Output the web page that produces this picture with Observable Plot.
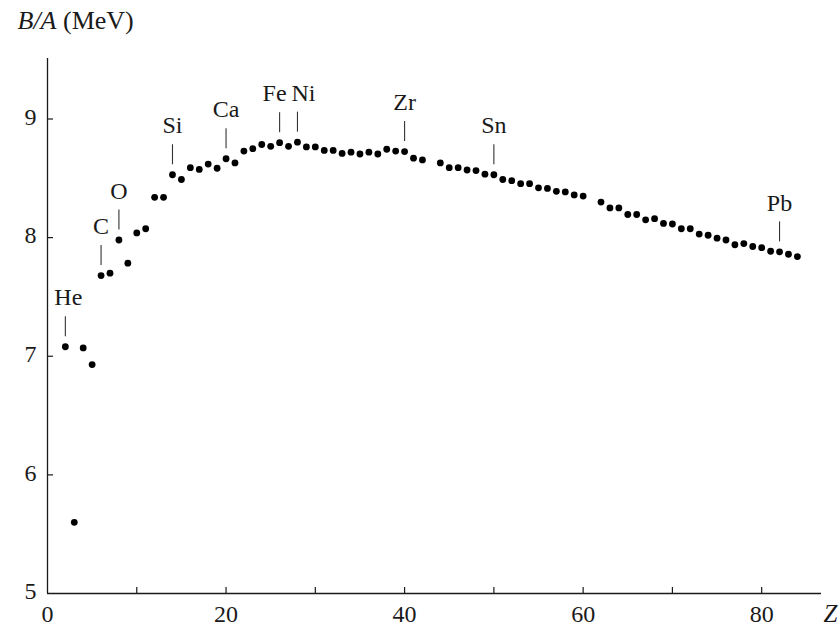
<!DOCTYPE html>
<html>
<head>
<meta charset="utf-8">
<script src="https://cdn.jsdelivr.net/npm/d3@7"></script>
<script src="https://cdn.jsdelivr.net/npm/@observablehq/plot@0.6"></script>
<style>
  html, body { margin: 0; padding: 0; background: #fff; }
</style>
</head>
<body>
<div id="chart"></div>
<script>
// Atomic number Z of the most stable isotope plotted
const Z = [2,3,4,5,6,7,8,9,10,11,12,13,14,15,16,17,18,19,20,21,22,23,24,25,26,27,28,29,30,
  31,32,33,34,35,36,37,38,39,40,41,42,44,45,46,47,48,49,50,51,52,53,54,55,56,57,58,59,60,
  62,63,64,65,66,67,68,69,70,71,72,73,74,75,76,77,78,79,80,81,82,83,84];
// Binding energy per nucleon B/A (MeV)
const BA = [7.08,5.60,7.07,6.93,7.68,7.70,7.98,7.785,8.04,8.075,8.34,8.34,8.53,8.49,8.59,8.575,8.62,8.585,8.665,8.63,
  8.73,8.75,8.785,8.77,8.80,8.77,8.805,8.765,8.765,8.735,8.735,8.71,8.72,8.705,8.72,8.705,8.745,8.73,8.725,8.67,
  8.655,8.63,8.59,8.59,8.57,8.565,8.535,8.53,8.49,8.48,8.455,8.455,8.42,8.415,8.39,8.385,8.36,8.35,
  8.30,8.25,8.25,8.195,8.195,8.15,8.16,8.12,8.115,8.075,8.075,8.03,8.02,7.995,7.98,7.94,7.95,7.925,7.915,7.885,7.88,7.86,7.84];
// Labelled elements
const labelNames = ["He","C","O","Si","Ca","Fe","Ni","Zr","Sn","Pb"];
const labelZ = [2,6,8,14,20,26,28,40,50,82];
// Axis ticks
const xTickLabels = [0,20,40,60,80];
const xTickMarks = [10,20,30,40,50,60,70,80];
const yTickLabels = [5,6,7,8,9];
const yTickMarks = [6,7,8,9];
const yTitleItalic = "B/A";
const yTitleUnit = " (MeV)";
const xTitle = "Z";

const data = Z.map((z, i) => ({Z: z, B: BA[i]}));
const labels = labelNames.map((name, i) => ({name, Z: labelZ[i], B: data.find(d => d.Z === labelZ[i]).B}));

const W = 840, H = 627;
const mL = 47, mR = 19, mT = 58, mB = 34;
const yDomain = [5, 9.51];
const frameW = W - mL - mR, frameH = H - mT - mB;
const pxPerMeV = frameH / (yDomain[1] - yDomain[0]);
const ink = "#1a1a1a";
const font = "'Liberation Serif', 'Times New Roman', serif";

const plain = labels.filter(d => d.name !== "Fe" && d.name !== "Ni" && d.name !== "He");

const chart = Plot.plot({
  width: W,
  height: H,
  marginLeft: mL,
  marginRight: mR,
  marginTop: mT,
  marginBottom: mB,
  style: {fontFamily: font, fontSize: "24px", color: ink, background: "#fff", overflow: "visible"},
  x: {domain: [0, 86.7]},
  y: {domain: yDomain},
  marks: [
    Plot.ruleX([0], {stroke: ink, strokeWidth: 1.3}),
    Plot.ruleY([5], {stroke: ink, strokeWidth: 1.3}),
    Plot.tickX(xTickMarks, {x: d => d, insetTop: frameH - 6, stroke: ink, strokeWidth: 1.2}),
    Plot.tickY(yTickMarks, {y: d => d, insetRight: frameW - 6, stroke: ink, strokeWidth: 1.2}),
    Plot.axisX({ticks: xTickLabels, tickFormat: d3.format("d"), tickSize: 0, tickPadding: 11, label: null, fontSize: 24, fill: ink}),
    Plot.axisY({ticks: yTickLabels, tickFormat: d3.format("d"), tickSize: 0, tickPadding: 11, label: null, fontSize: 24, dy: -2, fill: ink}),
    Plot.dot(data, {x: "Z", y: "B", r: 3.4, fill: "#000", stroke: null}),
    Plot.ruleX(labels, {x: "Z", y1: d => d.B + 10 / pxPerMeV, y2: d => d.B + 30 / pxPerMeV, stroke: "#333", strokeWidth: 1.1}),
    Plot.text(plain, {x: "Z", y: "B", text: "name", dy: -49, fontSize: 24, fill: ink}),
    Plot.text(labels.filter(d => d.name === "He"), {x: "Z", y: "B", text: "name", dy: -49, dx: 3, fontSize: 24, fill: ink}),
    Plot.text(labels.filter(d => d.name === "Fe"), {x: "Z", y: "B", text: "name", dy: -49, dx: -5, fontSize: 24, fill: ink}),
    Plot.text(labels.filter(d => d.name === "Ni"), {x: "Z", y: "B", text: "name", dy: -49, dx: 6, fontSize: 24, fill: ink}),
    Plot.text([yTitleItalic + yTitleUnit], {frameAnchor: "top-left", dx: 17 - mL, dy: 28 - mT, textAnchor: "start", lineAnchor: "bottom", fontSize: 26, fill: ink, className: "ytitle"}),
    Plot.text([xTitle], {frameAnchor: "bottom-right", dx: 9, dy: 11, textAnchor: "middle", lineAnchor: "top", fontStyle: "italic", fontSize: 25, fill: ink})
  ]
});

// Render the variable part of the y title in italics, as in the reference
const t = chart.querySelector("g.ytitle text");
if (t) {
  t.textContent = "";
  const a = document.createElementNS("http://www.w3.org/2000/svg", "tspan");
  a.setAttribute("font-style", "italic");
  a.textContent = yTitleItalic;
  const b = document.createElementNS("http://www.w3.org/2000/svg", "tspan");
  b.textContent = yTitleUnit;
  t.appendChild(a);
  t.appendChild(b);
}
document.getElementById("chart").appendChild(chart);
</script>
</body>
</html>
